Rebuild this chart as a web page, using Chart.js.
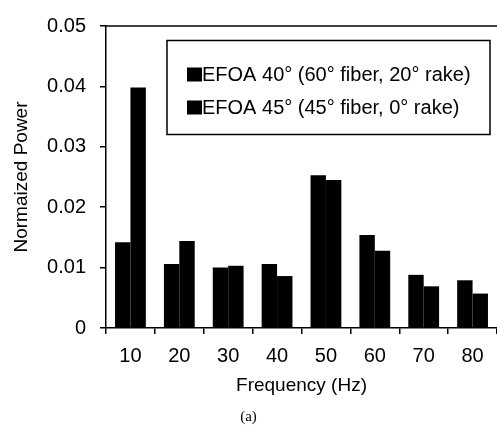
<!DOCTYPE html>
<html>
<head>
<meta charset="utf-8">
<script src="https://cdn.jsdelivr.net/npm/chart.js@4/dist/chart.umd.min.js"></script>
<style>
  html, body { margin: 0; padding: 0; background: #fff; }
  #wrap { width: 497px; height: 426px; position: relative; }
</style>
</head>
<body>
<div id="wrap"><canvas id="chart"></canvas></div>
<script>
// Data
const frequencies = ['10', '20', '30', '40', '50', '60', '70', '80'];
const efoa40 = [0.0142, 0.0106, 0.0100, 0.0106, 0.0253, 0.0154, 0.0088, 0.0079];
const efoa45 = [0.0398, 0.0144, 0.0103, 0.0086, 0.0245, 0.0128, 0.0069, 0.0057];
const seriesLabels = ['EFOA 40\u00b0 (60\u00b0 fiber, 20\u00b0 rake)', 'EFOA 45\u00b0 (45\u00b0 fiber, 0\u00b0 rake)'];

const FONT = "'Liberation Sans', Arial, sans-serif";

// Frame line on top + boxed legend inside the plot
const framePlugin = {
    id: 'frameAndLegend',
    afterDraw(chart) {
        const { ctx, chartArea } = chart;
        ctx.save();
        ctx.strokeStyle = '#000';
        ctx.lineWidth = 1.5;
        ctx.beginPath();
        ctx.moveTo(chartArea.left, chartArea.top);
        ctx.lineTo(chartArea.right, chartArea.top);
        ctx.stroke();

        // legend box
        const bx = chartArea.left + 61, by = chartArea.top + 14.5;
        const bw = 323, bh = 94;
        ctx.fillStyle = '#fff';
        ctx.fillRect(bx, by, bw, bh);
        ctx.strokeRect(bx, by, bw, bh);

        ctx.font = '20px ' + FONT;
        ctx.textBaseline = 'middle';
        ctx.textAlign = 'left';
        seriesLabels.forEach((lbl, i) => {
            const cy = by + 34 + i * 33;
            ctx.fillStyle = '#000';
            ctx.fillRect(bx + 20, cy - 7, 15, 14);
            ctx.fillText(lbl, bx + 35, cy + 1);
        });
        ctx.restore();
    }
};

new Chart(document.getElementById('chart'), {
    type: 'bar',
    data: {
        labels: frequencies,
        datasets: [
            { label: seriesLabels[0], data: efoa40, backgroundColor: '#000', borderWidth: 0 },
            { label: seriesLabels[1], data: efoa45, backgroundColor: '#000', borderWidth: 0 }
        ]
    },
    options: {
        responsive: true,
        maintainAspectRatio: false,
        animation: false,
        datasets: { bar: { categoryPercentage: 0.63, barPercentage: 1.0 } },
        layout: { padding: { top: 20, right: 0, left: 0, bottom: 0 } },
        plugins: {
            legend: { display: false },
            tooltip: { enabled: false },
            title: {
                display: true,
                text: '(a)',
                position: 'bottom',
                color: '#000',
                font: { family: "'Liberation Serif', 'Times New Roman', serif", size: 15, weight: 'normal' },
                padding: { top: 4, bottom: 0 }
            }
        },
        scales: {
            x: {
                offset: true,
                grid: { offset: true, drawOnChartArea: false, color: '#000', lineWidth: 1.5, tickLength: 6 },
                border: { display: true, color: '#000', width: 1.5 },
                ticks: { color: '#000', font: { family: FONT, size: 20 }, padding: 10, maxRotation: 0 },
                title: {
                    display: true,
                    text: 'Frequency (Hz)',
                    color: '#000',
                    font: { family: FONT, size: 19 },
                    padding: { top: 0, bottom: 7 }
                },
                afterFit(scale) { scale.height = 76; }
            },
            y: {
                min: 0,
                max: 0.05,
                grid: { drawOnChartArea: false, color: '#000', lineWidth: 1.5, tickLength: 6 },
                border: { display: true, color: '#000', width: 1.5 },
                ticks: {
                    stepSize: 0.01,
                    color: '#000',
                    font: { family: FONT, size: 20 },
                    padding: 14,
                    callback: v => v === 0 ? '0' : v.toFixed(2)
                },
                title: {
                    display: true,
                    text: 'Normaized Power',
                    color: '#000',
                    font: { family: FONT, size: 19 },
                    padding: { top: 10, bottom: 0 }
                },
                afterFit(scale) { scale.width = 106; }
            }
        }
    },
    plugins: [framePlugin]
});
</script>
</body>
</html>
